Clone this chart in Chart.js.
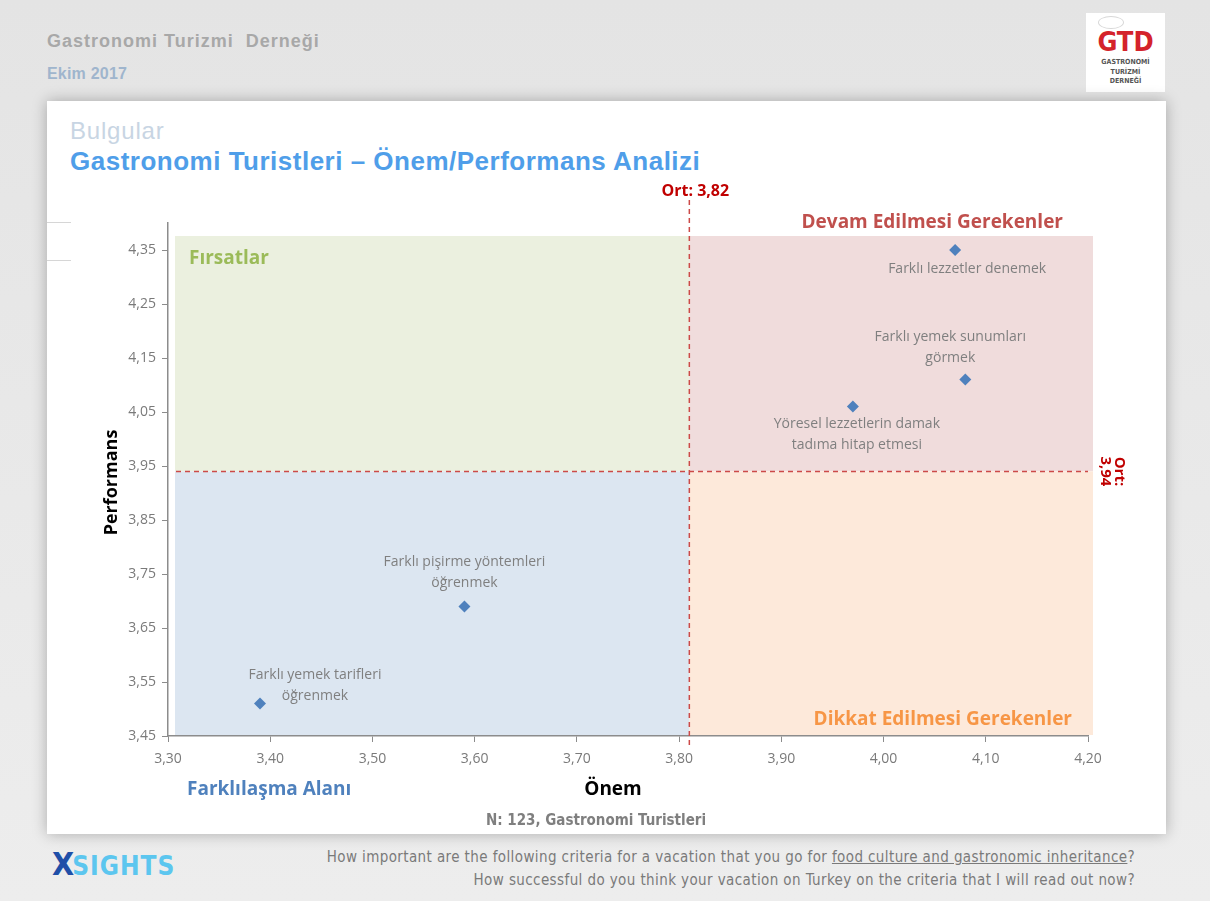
<!DOCTYPE html>
<html lang="tr">
<head>
<meta charset="utf-8">
<title>Gastronomi Turistleri – Önem/Performans Analizi</title>
<script src="https://cdn.jsdelivr.net/npm/chart.js@4.4.1/dist/chart.umd.min.js"></script>
<style>
  body { margin: 0; width: 1210px; height: 901px; overflow: hidden; position: relative;
         background: linear-gradient(#e4e4e4, #ededed); font-family: 'Liberation Sans', Arial, sans-serif; }
  .abs { position: absolute; white-space: nowrap; }
  #kurum { left: 47px; top: 31px; line-height: 20px; font-size: 18px; font-weight: bold; color: #a8a8a8; letter-spacing: 1px; }
  #tarih { left: 47px; top: 64px; line-height: 20px; font-size: 16px; font-weight: bold; color: #9fb5cd; letter-spacing: 0.2px; }
  #logo { left: 1086px; top: 13px; width: 79px; height: 79px; background: #fff; text-align: center; font-family: 'DejaVu Sans Condensed', 'Liberation Sans Narrow', sans-serif; }
  #logo .hat { position: absolute; left: 12px; top: 3px; width: 24px; height: 11px; border: 1px solid #d8d8d8; border-radius: 50%; }
  #logo .gtd { position: absolute; left: 0; width: 79px; top: 16px; line-height: 26px; font-size: 27px; font-weight: bold; color: #d4232b; }
  #logo .alt { position: absolute; left: 0; width: 79px; font-size: 7px; line-height: 9px; font-weight: bold; color: #555; }
  #panel { left: 47px; top: 101px; width: 1119px; height: 733px; background: #fff; box-shadow: 0 0 14px rgba(0,0,0,0.28); }
  #panel canvas { position: absolute; left: 0; top: 0; }
  #bulgular { left: 23px; top: 16px; line-height: 28px; font-size: 24px; color: #c8d5e3; letter-spacing: 0.8px; }
  #baslik { left: 23px; top: 44px; line-height: 32px; font-size: 26px; font-weight: bold; color: #4f9ee9; letter-spacing: 0.5px; }
  .cizgi { position: absolute; left: 0; width: 24px; height: 1px; background: #d6d6d6; }
  #n { left: 349px; width: 400px; top: 709px; line-height: 20px; text-align: center; font-size: 15px; font-weight: bold; color: #7f7f7f; font-family: 'DejaVu Sans Condensed', 'Liberation Sans Narrow', sans-serif; }
  #xsights { left: 52px; top: 848px; line-height: 32px; font-size: 26px; font-weight: bold; font-family: 'DejaVu Sans Condensed', 'Liberation Sans Narrow', sans-serif; }
  #xsights .x { color: #1f4fa8; font-size: 32px; letter-spacing: -2px; }
  #xsights .s { color: #5cc6ef; letter-spacing: 1px; }
  .soru { right: 75px; line-height: 20px; font-size: 15px; letter-spacing: 0.4px; color: #7a7a7a; font-family: 'Liberation Sans Narrow', 'DejaVu Sans Condensed', sans-serif; }
  .soru u { text-decoration-color: #7a7a7a; }
</style>
</head>
<body>
<div class="abs" id="kurum">Gastronomi Turizmi&nbsp; Derneği</div>
<div class="abs" id="tarih">Ekim 2017</div>
<div class="abs" id="logo">
  <div class="hat"></div>
  <div class="gtd">GTD</div>
  <div class="alt" style="top:45px">GASTRONOMİ</div>
  <div class="alt" style="top:55px">TURİZMİ</div>
  <div class="alt" style="top:64px">DERNEĞİ</div>
</div>
<div class="abs" id="panel">
  <div class="abs" id="bulgular">Bulgular</div>
  <div class="abs" id="baslik">Gastronomi Turistleri – Önem/Performans Analizi</div>
  <div class="cizgi" style="top:121px"></div>
  <div class="cizgi" style="top:159px"></div>
  <canvas id="grafik" width="1119" height="733"></canvas>
  <div class="abs" id="n">N: 123, Gastronomi Turistleri</div>
</div>
<div class="abs" id="xsights"><span class="x">X</span><span class="s">SIGHTS</span></div>
<div class="abs soru" style="top:847px">How important are the following criteria for a vacation that you go for <u>food culture and gastronomic inheritance</u>?</div>
<div class="abs soru" style="top:870px">How successful do you think your vacation on Turkey on the criteria that I will read out now?</div>

<script>
// veriler
const kriterler = ['Farklı lezzetler denemek', 'Farklı yemek sunumları görmek', 'Yöresel lezzetlerin damak tadıma hitap etmesi', 'Farklı pişirme yöntemleri öğrenmek', 'Farklı yemek tarifleri öğrenmek'];
const etiketSatirlari = [
    ['Farklı lezzetler denemek'],
    ['Farklı yemek sunumları', 'görmek'],
    ['Yöresel lezzetlerin damak', 'tadıma hitap etmesi'],
    ['Farklı pişirme yöntemleri', 'öğrenmek'],
    ['Farklı yemek tarifleri', 'öğrenmek']
];
const onem = [4.07, 4.08, 3.97, 3.59, 3.39];
const performans = [4.35, 4.11, 4.06, 3.69, 3.51];
const ortOnem = 3.81;
const ortPerformans = 3.94;
const ortOnemYazi = 'Ort: 3,82';
const ortPerformansYazi = ['Ort:', '3,94'];
const xTicks = [3.30, 3.40, 3.50, 3.60, 3.70, 3.80, 3.90, 4.00, 4.10, 4.20];
const yTicks = [3.45, 3.55, 3.65, 3.75, 3.85, 3.95, 4.05, 4.15, 4.25, 4.35];

// etiketlerin noktaya göre kaydırması [dx, ilk satırın dy'si]
const etiketKaydir = [[12, 19], [-15, -43], [4, 17], [0, -44], [55, -29]];

const yaziFont = '"Open Sans", Lato, sans-serif';

function yaz(ctx, s, x, y, font, renk, hiza) {
    ctx.font = font;
    ctx.fillStyle = renk;
    ctx.textAlign = hiza || 'center';
    ctx.textBaseline = 'middle';
    ctx.fillText(s, x, y);
}

const dortluPlugin = {
    id: 'dortlu',
    beforeDraw(chart) {
        const {ctx, scales: {x, y}} = chart;
        const sol = x.getPixelForValue(x.min) + 7, sag = x.getPixelForValue(x.max) + 5;
        const ust = y.getPixelForValue(y.max) + 13, alt = y.getPixelForValue(y.min) - 1;
        const mx = x.getPixelForValue(ortOnem), my = y.getPixelForValue(ortPerformans);
        ctx.save();
        ctx.fillStyle = '#ebf0df'; ctx.fillRect(sol, ust, mx - sol, my - ust);
        ctx.fillStyle = '#f0dcdc'; ctx.fillRect(mx, ust, sag - mx, my - ust);
        ctx.fillStyle = '#dce6f1'; ctx.fillRect(sol, my, mx - sol, alt - my);
        ctx.fillStyle = '#fde9da'; ctx.fillRect(mx, my, sag - mx, alt - my);
        ctx.restore();
    },
    beforeDatasetsDraw(chart) {
        const {ctx, chartArea, scales: {x, y}} = chart;
        const mx = x.getPixelForValue(ortOnem), my = y.getPixelForValue(ortPerformans);
        ctx.save();
        ctx.strokeStyle = '#cc4a48';
        ctx.lineWidth = 1.5;
        ctx.setLineDash([5, 4]);
        ctx.beginPath();
        ctx.moveTo(x.getPixelForValue(x.min) + 8, my);
        ctx.lineTo(chartArea.right, my);
        ctx.stroke();
        ctx.beginPath();
        ctx.moveTo(mx, chartArea.top - 23);
        ctx.lineTo(mx, chartArea.bottom + 9);
        ctx.stroke();
        ctx.restore();
    },
    afterDatasetsDraw(chart) {
        const {ctx, chartArea: a, scales: {x, y}} = chart;
        const mx = x.getPixelForValue(ortOnem), my = y.getPixelForValue(ortPerformans);
        ctx.save();
        // nokta etiketleri
        onem.forEach((v, i) => {
            const px = x.getPixelForValue(v) + etiketKaydir[i][0];
            const py = y.getPixelForValue(performans[i]) + etiketKaydir[i][1];
            etiketSatirlari[i].forEach((s, j) => yaz(ctx, s, px, py + j * 21, '14px ' + yaziFont, '#7f7f7f'));
        });
        // dörtlü başlıkları
        yaz(ctx, 'Fırsatlar', a.left + 21, a.top + 36, 'bold 19px ' + yaziFont, '#9bbb59', 'left');
        yaz(ctx, 'Devam Edilmesi Gerekenler', a.right - 25, a.top, 'bold 19px ' + yaziFont, '#c0504d', 'right');
        yaz(ctx, 'Dikkat Edilmesi Gerekenler', a.right - 16, a.bottom - 16, 'bold 19px ' + yaziFont, '#f79646', 'right');
        yaz(ctx, 'Farklılaşma Alanı', a.left + 19, a.bottom + 54, 'bold 19px ' + yaziFont, '#4f81bd', 'left');
        // eksen başlıkları
        yaz(ctx, 'Önem', a.left + 445, a.bottom + 54, 'bold 19px ' + yaziFont, '#000');
        ctx.save();
        ctx.translate(a.left - 56, (a.top + a.bottom) / 2 + 3);
        ctx.rotate(-Math.PI / 2);
        yaz(ctx, 'Performans', 0, 0, 'bold 18px ' + yaziFont, '#000');
        ctx.restore();
        // ortalama etiketleri
        yaz(ctx, ortOnemYazi, mx + 6, a.top - 32, 'bold 16px ' + yaziFont, '#c00000');
        ctx.save();
        ctx.translate(a.right + 24, my);
        ctx.rotate(Math.PI / 2);
        ortPerformansYazi.forEach((s, j) => yaz(ctx, s, 0, j * 14 - 7, 'bold 15px ' + yaziFont, '#c00000'));
        ctx.restore();
        ctx.restore();
    }
};

const virgul = (v) => Number(v).toFixed(2).replace('.', ',');

const eksenOrtak = {
    type: 'linear',
    grid: { drawOnChartArea: false, drawTicks: true, tickLength: 6, color: '#8c8c8c' },
    border: { display: true, color: '#8c8c8c', width: 1.5 },
};

new Chart(document.getElementById('grafik'), {
    type: 'scatter',
    data: {
        labels: kriterler,
        datasets: [{
            label: 'Kriterler',
            data: onem.map((v, i) => ({ x: v, y: performans[i] })),
            pointStyle: 'rectRot',
            pointRadius: 6,
            pointHoverRadius: 6,
            backgroundColor: '#4f81bd',
            borderWidth: 0
        }]
    },
    options: {
        responsive: false,
        animation: false,
        devicePixelRatio: 1,
        layout: { padding: { top: 122, right: 78, left: 0, bottom: 0 } },
        scales: {
            x: {
                ...eksenOrtak,
                min: 3.30,
                max: 4.20,
                afterBuildTicks: (s) => { s.ticks = xTicks.map(v => ({ value: v })); },
                afterFit: (s) => { s.height = 98; },
                ticks: { callback: virgul, color: '#7a7a7a', padding: 9, maxRotation: 0, font: { size: 14, family: yaziFont } }
            },
            y: {
                ...eksenOrtak,
                min: 3.45,
                max: 4.40,
                afterBuildTicks: (s) => { s.ticks = yTicks.map(v => ({ value: v })); },
                afterFit: (s) => { s.width = 121; },
                ticks: { callback: virgul, color: '#7a7a7a', padding: 6, font: { size: 14, family: yaziFont } }
            }
        },
        plugins: {
            legend: { display: false },
            tooltip: { enabled: false }
        }
    },
    plugins: [dortluPlugin]
});
</script>
</body>
</html>
